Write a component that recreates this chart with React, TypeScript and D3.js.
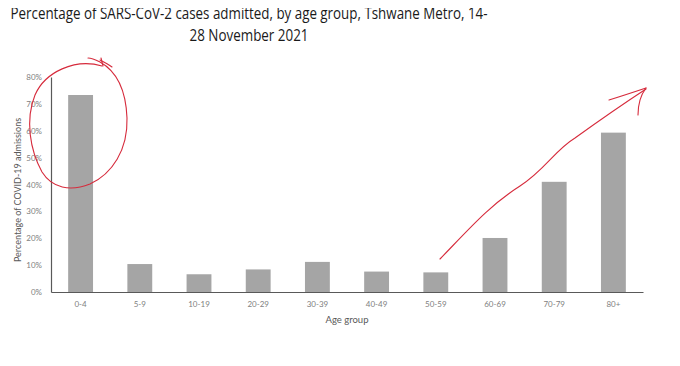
import { useEffect, useRef } from 'react'
import * as d3 from 'd3'

const AGE_GROUPS = ['0-4', '5-9', '10-19', '20-29', '30-39', '40-49', '50-59', '60-69', '70-79', '80+']
const ADMITTED_PCT = [73.3, 10.4, 6.6, 8.4, 11.2, 7.6, 7.3, 20.1, 41.0, 59.3]
const Y_TICKS = [0, 10, 20, 30, 40, 50, 60, 70, 80]
const TITLE_LINES = [
  'Percentage of SARS-CoV-2 cases admitted, by age group, Tshwane Metro, 14-',
  '28 November 2021',
]
const TITLE_WIDTHS = [477, 119]

// hand-drawn red marks laid over the slide (pixel space)
const ANNOTATIONS = [
  'M102,66 C75,58 45,72 35,95 C25,120 30,150 42,172 C52,188 70,192 90,184 C112,174 128,150 127,118 C126,92 118,72 100,62 C92,58 90,58 88,58',
  'M100,60 C104,62 108,64 112,67',
  'M101,58 L103,66',
  'M440,259 C470,228 490,205 520,186 C545,170 555,150 575,138 C600,120 620,106 646,89',
  'M609,100 C622,96 634,92 646,88',
  'M638,115 C638,105 640,96 646,88',
]

const W = 680
const H = 366
const margin = { top: 77, right: 37, bottom: 74, left: 51 }

export default function App() {
  const ref = useRef<SVGSVGElement>(null)

  useEffect(() => {
    if (!ref.current) return
    d3.select(ref.current).selectAll('*').remove()
    render(ref.current)
  }, [])

  return (
    <div style={{ margin: -8 }}>
      <svg ref={ref} width={W} height={H} style={{ display: 'block', background: '#fff' }} />
    </div>
  )
}

function render(el: SVGSVGElement) {
  const inner = { w: W - margin.left - margin.right, h: H - margin.top - margin.bottom }
  const font = 'Lato, "Open Sans", sans-serif'
  const svg = d3.select(el).style('font-family', font)

  // Title
  TITLE_LINES.forEach((line, i) => {
    svg.append('text')
      .attr('x', 249)
      .attr('y', 19 + i * 22)
      .attr('text-anchor', 'middle')
      .attr('font-size', 16)
      .attr('font-family', '"Open Sans", sans-serif')
      .attr('textLength', TITLE_WIDTHS[i])
      .attr('lengthAdjust', 'spacingAndGlyphs')
      .attr('fill', '#1a1a1a')
      .text(line)
  })

  const g = svg.append('g').attr('transform', `translate(${margin.left},${margin.top})`)

  const x = d3.scaleBand().domain(AGE_GROUPS).range([0, inner.w]).paddingInner(0.58).paddingOuter(0.29)
  const y = d3.scaleLinear().domain([0, 80]).range([inner.h, 0])

  // Bars
  AGE_GROUPS.forEach((grp, i) => {
    g.append('rect')
      .attr('x', x(grp)!)
      .attr('y', y(ADMITTED_PCT[i]))
      .attr('width', x.bandwidth())
      .attr('height', inner.h - y(ADMITTED_PCT[i]))
      .attr('fill', '#a5a5a5')
  })

  // Y axis
  g.append('g')
    .call(d3.axisLeft(y).tickValues(Y_TICKS).tickSize(0).tickPadding(9).tickFormat((v) => `${v}%`))
    .call((sel) => sel.select('.domain').attr('stroke', '#595959').attr('stroke-width', 1.2))
    .call((sel) => sel.selectAll('text').attr('font-size', 8).attr('fill', '#808080').attr('font-family', font))

  // X axis
  g.append('g')
    .attr('transform', `translate(0,${inner.h})`)
    .call(d3.axisBottom(x).tickSize(0).tickPadding(9))
    .call((sel) => sel.select('.domain').attr('stroke', '#595959').attr('stroke-width', 1.2))
    .call((sel) => sel.selectAll('text').attr('font-size', 8).attr('fill', '#808080').attr('font-family', font))

  // Axis titles
  svg.append('text')
    .attr('x', margin.left + inner.w / 2)
    .attr('y', 323)
    .attr('text-anchor', 'middle')
    .attr('font-size', 9.5)
    .attr('fill', '#595959')
    .text('Age group')

  svg.append('text')
    .attr('transform', 'rotate(-90)')
    .attr('x', -190)
    .attr('y', 21)
    .attr('text-anchor', 'middle')
    .attr('font-size', 9)
    .attr('fill', '#595959')
    .text('Percentage of COVID-19 admissions')

  // Annotations
  ANNOTATIONS.forEach((d) => {
    svg.append('path')
      .attr('d', d)
      .attr('fill', 'none')
      .attr('stroke', '#d62b3c')
      .attr('stroke-width', 1.1)
      .attr('stroke-linecap', 'round')
  })
}
